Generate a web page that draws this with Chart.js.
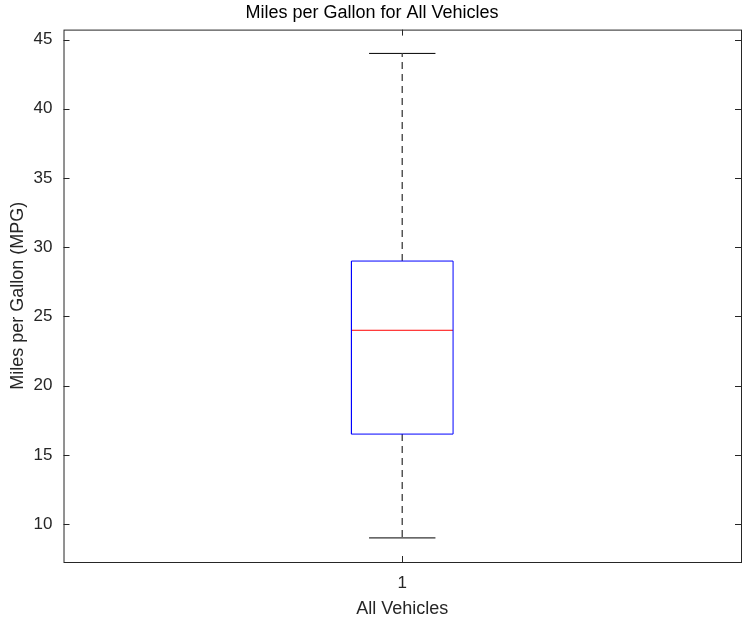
<!DOCTYPE html>
<html><head><meta charset="utf-8">
<script src="https://cdn.jsdelivr.net/npm/chart.js@4"></script>
<style>html,body{margin:0;background:#fff}#wrap{width:744px;height:626px}</style>
</head><body><div id="wrap"><canvas id="c"></canvas></div>
<script>
// Box plot summary (MPG, all vehicles)
const groups = [1];
const groupLabels = ['1'];
const whiskerLow = [9];
const q1 = [16.5];
const median = [24];
const q3 = [29];
const whiskerHigh = [44];
const yTicks = [10, 15, 20, 25, 30, 35, 40, 45];

const boxHalf = 0.075, capHalf = 0.049;
const datasets = [];
groups.forEach((g, i) => {
  const base = { showLine: true, pointRadius: 0, fill: false, tension: 0 };
  datasets.push({ ...base, data: [
    {x: g - boxHalf, y: q1[i]}, {x: g + boxHalf, y: q1[i]}, {x: g + boxHalf, y: q3[i]},
    {x: g - boxHalf, y: q3[i]}, {x: g - boxHalf, y: q1[i]}], borderColor: '#0000ff', borderWidth: 1 });
  datasets.push({ ...base, data: [{x: g - boxHalf, y: median[i]}, {x: g + boxHalf, y: median[i]}], borderColor: '#ff0000', borderWidth: 1 });
  datasets.push({ ...base, data: [{x: g, y: q3[i]}, {x: g, y: whiskerHigh[i]}], borderColor: '#555', borderWidth: 1.5, borderDash: [7, 5] });
  datasets.push({ ...base, data: [{x: g, y: q1[i]}, {x: g, y: whiskerLow[i]}], borderColor: '#555', borderWidth: 1.5, borderDash: [7, 5] });
  datasets.push({ ...base, data: [{x: g - capHalf, y: whiskerHigh[i]}, {x: g + capHalf, y: whiskerHigh[i]}], borderColor: '#000', borderWidth: 1 });
  datasets.push({ ...base, data: [{x: g - capHalf, y: whiskerLow[i]}, {x: g + capHalf, y: whiskerLow[i]}], borderColor: '#000', borderWidth: 1 });
});

// frame plus inward ticks like the original
const frame = {
  id: 'frame',
  afterDraw(chart) {
    const {ctx, chartArea: a, scales: {x, y}} = chart;
    ctx.save();
    ctx.strokeStyle = '#262626';
    ctx.lineWidth = 1;
    ctx.strokeRect(a.left + 0.5, a.top + 0.5, a.right - a.left, a.bottom - a.top);
    ctx.beginPath();
    yTicks.forEach(v => {
      const p = Math.round(y.getPixelForValue(v)) + 0.5;
      ctx.moveTo(a.left, p); ctx.lineTo(a.left + 6, p);
      ctx.moveTo(a.right, p); ctx.lineTo(a.right - 6, p);
    });
    groups.forEach(g => {
      const p = Math.round(x.getPixelForValue(g)) + 0.5;
      ctx.moveTo(p, a.bottom); ctx.lineTo(p, a.bottom - 6);
      ctx.moveTo(p, a.top); ctx.lineTo(p, a.top + 6);
    });
    ctx.stroke();
    ctx.restore();
  }
};

const font = { family: 'Arial, "Liberation Sans"', size: 17 };
new Chart(document.getElementById('c'), {
  type: 'scatter',
  data: { datasets },
  options: {
    responsive: true, maintainAspectRatio: false, animation: false,
    layout: { padding: { top: 0, right: 3, bottom: 2, left: 3 } },
    plugins: {
      legend: { display: false }, tooltip: { enabled: false },
      title: { display: true, text: 'Miles per Gallon for All Vehicles', color: '#000', font: { ...font, size: 18, weight: 'normal' }, padding: { top: 2, bottom: 6 } }
    },
    scales: {
      x: {
        type: 'linear', min: 0.5, max: 1.5,
        afterBuildTicks: s => { s.ticks = groups.map(v => ({ value: v })); },
        ticks: { color: '#262626', font, callback: (v) => groupLabels[groups.indexOf(v)] ?? '' },
        grid: { display: false }, border: { display: false },
        title: { display: true, text: 'All Vehicles', color: '#262626', font: { ...font, size: 18 }, padding: { top: 2 } }
      },
      y: {
        min: 7.26, max: 45.72,
        afterBuildTicks: s => { s.ticks = yTicks.map(v => ({ value: v })); },
        ticks: { color: '#262626', font },
        grid: { display: false }, border: { display: false },
        title: { display: true, text: 'Miles per Gallon (MPG)', color: '#262626', font: { ...font, size: 18 }, padding: { bottom: 2 } }
      }
    }
  },
  plugins: [frame]
});
</script></body></html>
